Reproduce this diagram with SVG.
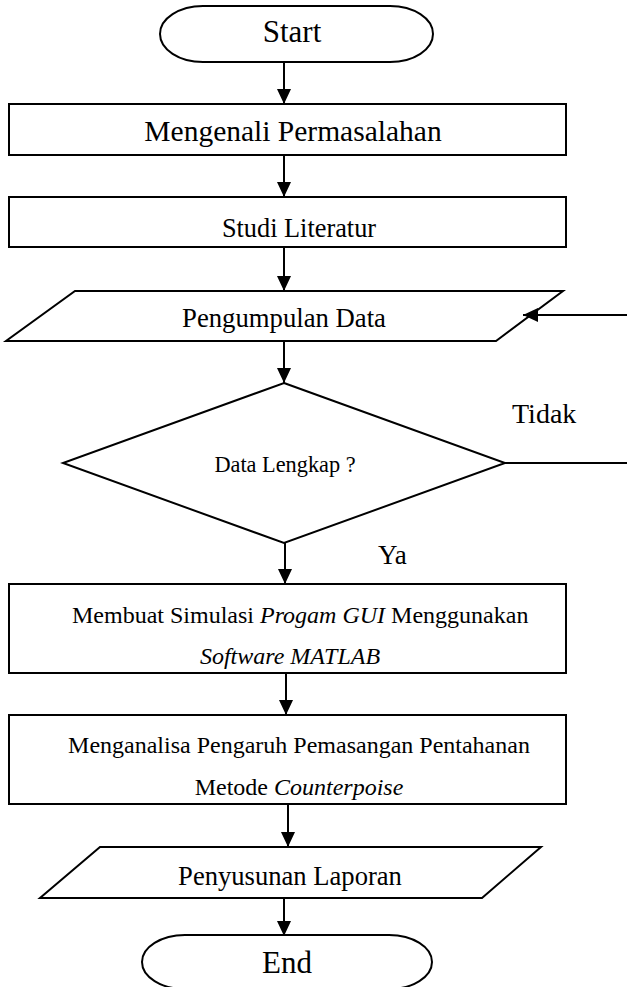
<svg xmlns="http://www.w3.org/2000/svg" width="627" height="987" viewBox="0 0 627 987">
<style>
.s{fill:#fff;stroke:#000;stroke-width:2}
.c{fill:none;stroke:#000;stroke-width:2}
text{font-family:"Liberation Serif","Times New Roman",serif;fill:#000}
.m{text-anchor:middle}
.i{font-style:italic}
</style>
<defs>
<marker id="ah" markerUnits="userSpaceOnUse" markerWidth="15" markerHeight="14" refX="15" refY="7" orient="auto">
<path d="M0,0 L15,7 L0,14 z" fill="#000"/>
</marker>
</defs>
<rect width="627" height="987" fill="#fff"/>
<g id="start">
<path class="s" d="M203,6 H390 A43,28 0 0 1 390,62 H203 A43,28 0 0 1 203,6 Z"/>
<text class="m" x="292" y="42" font-size="31">Start</text>
</g>
<g id="mengenali">
<rect class="s" x="9" y="104" width="557" height="51"/>
<text class="m" x="293" y="141" font-size="29.5">Mengenali Permasalahan</text>
</g>
<g id="studi">
<rect class="s" x="9" y="197" width="557" height="50"/>
<text class="m" x="299" y="237" font-size="26.3">Studi Literatur</text>
</g>
<g id="pengumpulan">
<path class="s" d="M75,291 H563 L496,341 H6 Z"/>
<text class="m" x="284" y="327" font-size="26.7">Pengumpulan Data</text>
</g>
<g id="decision">
<path class="s" d="M284,383 L505,463 L284,543 L63,463 Z"/>
<text class="m" x="285" y="472" font-size="22.3">Data Lengkap ?</text>
</g>
<g id="membuat">
<rect class="s" x="9" y="584" width="557" height="89"/>
<text x="72" y="623" font-size="24">Membuat Simulasi <tspan class="i">Progam GUI</tspan> Menggunakan</text>
<text class="m i" x="290" y="664" font-size="24">Software MATLAB</text>
</g>
<g id="menganalisa">
<rect class="s" x="9" y="715" width="557" height="89"/>
<text class="m" x="299" y="753" font-size="24">Menganalisa Pengaruh Pemasangan Pentahanan</text>
<text class="m" x="299" y="795" font-size="24">Metode <tspan class="i">Counterpoise</tspan></text>
</g>
<g id="penyusunan">
<path class="s" d="M100,847 H541 L482,898 H40 Z"/>
<text class="m" x="290" y="885" font-size="26.6">Penyusunan Laporan</text>
</g>
<g id="end">
<path class="s" d="M185,935 H389 A43,27 0 0 1 389,989 H185 A43,27 0 0 1 185,935 Z"/>
<text class="m" x="287" y="973" font-size="31">End</text>
</g>
<g id="connectors">
<line class="c" x1="284" y1="62" x2="284" y2="104" marker-end="url(#ah)"/>
<line class="c" x1="284" y1="155" x2="284" y2="197" marker-end="url(#ah)"/>
<line class="c" x1="284" y1="247" x2="284" y2="291" marker-end="url(#ah)"/>
<line class="c" x1="284" y1="341" x2="284" y2="383" marker-end="url(#ah)"/>
<line class="c" x1="285" y1="543" x2="285" y2="584" marker-end="url(#ah)"/>
<line class="c" x1="286" y1="673" x2="286" y2="715" marker-end="url(#ah)"/>
<line class="c" x1="288" y1="804" x2="288" y2="847" marker-end="url(#ah)"/>
<line class="c" x1="284" y1="898" x2="284" y2="936" marker-end="url(#ah)"/>
<line class="c" x1="505" y1="463" x2="627" y2="463"/>
<line class="c" x1="627" y1="315" x2="523" y2="315" marker-end="url(#ah)"/>
<text x="512" y="423" font-size="28">Tidak</text>
<text x="378" y="564" font-size="27">Ya</text>
</g>
</svg>
